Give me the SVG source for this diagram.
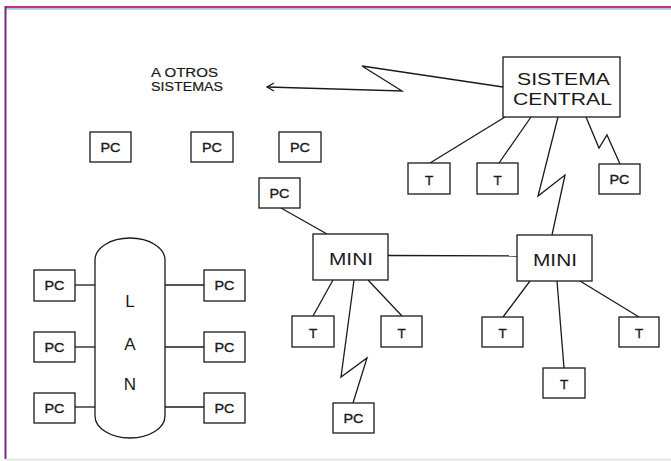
<svg xmlns="http://www.w3.org/2000/svg" width="671" height="461" viewBox="0 0 671 461">
<style>
.box{fill:#fff;stroke:#1a1a1a;stroke-width:1.3}
.ln{fill:none;stroke:#1a1a1a;stroke-width:1.3;stroke-linejoin:miter}
.pc{font-family:"Liberation Sans",Arial,sans-serif;font-size:12.5px;fill:#1a1a1a;text-anchor:middle;stroke:#1a1a1a;stroke-width:0.35}
.t{font-family:"Liberation Sans",Arial,sans-serif;font-size:13.5px;fill:#1a1a1a;text-anchor:middle;stroke:#1a1a1a;stroke-width:0.3}
.big{font-family:"Liberation Sans",Arial,sans-serif;font-size:17px;fill:#1a1a1a;text-anchor:middle}
.lbl{font-family:"Liberation Sans",Arial,sans-serif;font-size:12.5px;fill:#1a1a1a;stroke:#1a1a1a;stroke-width:0.2}
</style>
<rect x="0" y="0" width="671" height="461" fill="#fff"/>
<g id="frame">
<line x1="5" y1="7" x2="671" y2="7" stroke="#c8307a" stroke-width="2"/>
<line x1="5" y1="8.8" x2="671" y2="8.8" stroke="#7fb0e0" stroke-width="1.2"/>
<line x1="5.5" y1="6" x2="5.5" y2="459" stroke="#7a2a82" stroke-width="2"/>
<line x1="6" y1="459.5" x2="671" y2="459.5" stroke="#e2e4e6" stroke-width="2"/>
</g>
<g id="connectors">
<polyline class="ln" points="503,87 362,66 402,91 267,87"/>
<polyline class="ln" points="274,83 267,87 274,91"/>
<line class="ln" x1="505" y1="117" x2="430" y2="163"/>
<line class="ln" x1="531" y1="117" x2="499" y2="163"/>
<polyline class="ln" points="558,117 538,196 565,175 552,235"/>
<polyline class="ln" points="586,117 599,148 607,135 620,164"/>
<line class="ln" x1="281" y1="208" x2="327" y2="234"/>
<line class="ln" x1="388" y1="255.5" x2="517" y2="256"/>
<line class="ln" x1="333" y1="280" x2="313" y2="316"/>
<line class="ln" x1="368" y1="280" x2="402" y2="316"/>
<polyline class="ln" points="354,280 341,377 367,358 353,403"/>
<line class="ln" x1="530" y1="281" x2="503" y2="317"/>
<line class="ln" x1="557" y1="281" x2="564" y2="368"/>
<line class="ln" x1="580" y1="281" x2="639" y2="317"/>
<line class="ln" x1="75" y1="285" x2="95" y2="285"/>
<line class="ln" x1="75" y1="347" x2="95" y2="347"/>
<line class="ln" x1="75" y1="407" x2="95" y2="407"/>
<line class="ln" x1="165" y1="285" x2="204" y2="285" stroke="#3a1e1e"/>
<line class="ln" x1="165" y1="347" x2="204" y2="347"/>
<line class="ln" x1="165" y1="407" x2="204" y2="407"/>
</g>
<g id="label-otros">
<text class="lbl" x="151" y="77" textLength="67" lengthAdjust="spacingAndGlyphs">A OTROS</text>
<text class="lbl" x="151" y="91" textLength="72" lengthAdjust="spacingAndGlyphs">SISTEMAS</text>
</g>
<g id="sistema-central">
<rect class="box" x="503" y="57" width="117" height="60"/>
<text class="big" x="563.5" y="85" textLength="93" lengthAdjust="spacingAndGlyphs">SISTEMA</text>
<text class="big" x="562.5" y="105" textLength="99" lengthAdjust="spacingAndGlyphs">CENTRAL</text>
</g>
<g id="pc-top-1"><rect class="box" x="90" y="132" width="41" height="30"/><text class="pc" x="110.5" y="152" textLength="20" lengthAdjust="spacingAndGlyphs">PC</text></g>
<g id="pc-top-2"><rect class="box" x="191" y="132" width="42" height="30"/><text class="pc" x="212" y="152" textLength="20" lengthAdjust="spacingAndGlyphs">PC</text></g>
<g id="pc-top-3"><rect class="box" x="279" y="132" width="42" height="30"/><text class="pc" x="300" y="152" textLength="20" lengthAdjust="spacingAndGlyphs">PC</text></g>
<g id="t-central-1"><rect class="box" x="408" y="163" width="42" height="31"/><text class="t" x="429" y="185">T</text></g>
<g id="t-central-2"><rect class="box" x="477" y="163" width="41" height="31"/><text class="t" x="497.5" y="185">T</text></g>
<g id="pc-central"><rect class="box" x="599" y="164" width="41" height="30"/><text class="pc" x="619.5" y="184" textLength="20" lengthAdjust="spacingAndGlyphs">PC</text></g>
<g id="pc-mini1"><rect class="box" x="259" y="178" width="41" height="30"/><text class="pc" x="279.5" y="198" textLength="20" lengthAdjust="spacingAndGlyphs">PC</text></g>
<g id="mini-1"><rect class="box" x="313" y="234" width="75" height="46"/><text class="big" x="351" y="265" textLength="44" lengthAdjust="spacingAndGlyphs">MINI</text></g>
<g id="mini-2"><rect class="box" x="517" y="235" width="75" height="46"/><text class="big" x="555" y="266" textLength="44" lengthAdjust="spacingAndGlyphs">MINI</text></g>
<g id="t-mini1-1"><rect class="box" x="292" y="316" width="42" height="31"/><text class="t" x="313" y="338">T</text></g>
<g id="t-mini1-2"><rect class="box" x="381" y="316" width="41" height="31"/><text class="t" x="401.5" y="338">T</text></g>
<g id="pc-mini1-bottom"><rect class="box" x="333" y="403" width="41" height="30"/><text class="pc" x="353.5" y="423" textLength="20" lengthAdjust="spacingAndGlyphs">PC</text></g>
<g id="t-mini2-1"><rect class="box" x="482" y="317" width="41" height="30"/><text class="t" x="502.5" y="338">T</text></g>
<g id="t-mini2-2"><rect class="box" x="619" y="317" width="40" height="30"/><text class="t" x="639" y="338">T</text></g>
<g id="t-mini2-3"><rect class="box" x="543" y="368" width="42" height="30"/><text class="t" x="564" y="389">T</text></g>
<g id="lan">
<path class="box" d="M95,260 A35,22 0 0 1 165,260 L165,416 A35,22 0 0 1 95,416 Z"/>
<text class="big" x="130" y="307">L</text>
<text class="big" x="130" y="350">A</text>
<text class="big" x="130" y="390">N</text>
</g>
<g id="lan-pc-l1"><rect class="box" x="34" y="270" width="41" height="31"/><text class="pc" x="54.5" y="290" textLength="20" lengthAdjust="spacingAndGlyphs">PC</text></g>
<g id="lan-pc-l2"><rect class="box" x="34" y="332" width="41" height="30"/><text class="pc" x="54.5" y="352" textLength="20" lengthAdjust="spacingAndGlyphs">PC</text></g>
<g id="lan-pc-l3"><rect class="box" x="34" y="393" width="41" height="30"/><text class="pc" x="54.5" y="413" textLength="20" lengthAdjust="spacingAndGlyphs">PC</text></g>
<g id="lan-pc-r1"><rect class="box" x="204" y="270" width="41" height="31"/><text class="pc" x="224.5" y="290" textLength="20" lengthAdjust="spacingAndGlyphs">PC</text></g>
<g id="lan-pc-r2"><rect class="box" x="204" y="332" width="41" height="30"/><text class="pc" x="224.5" y="352" textLength="20" lengthAdjust="spacingAndGlyphs">PC</text></g>
<g id="lan-pc-r3"><rect class="box" x="204" y="393" width="41" height="30"/><text class="pc" x="224.5" y="413" textLength="20" lengthAdjust="spacingAndGlyphs">PC</text></g>
</svg>
